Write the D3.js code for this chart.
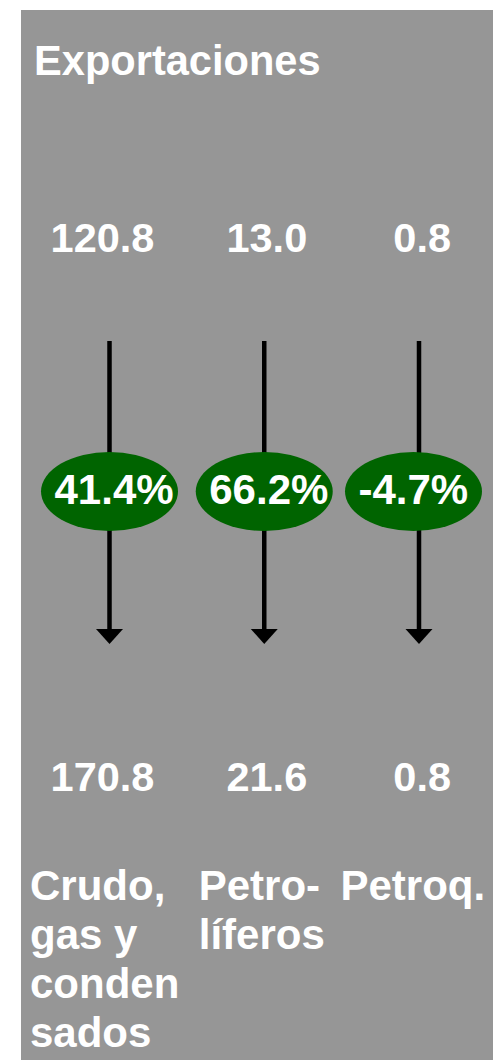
<!DOCTYPE html>
<html>
<head>
<meta charset="utf-8">
<script src="https://cdn.jsdelivr.net/npm/d3@7"></script>
<style>
  html, body { margin: 0; padding: 0; background: #ffffff; }
  svg { display: block; }
  text { font-family: "Liberation Sans", Arial, sans-serif; font-weight: bold; fill: #ffffff; }
</style>
</head>
<body>
<script>
// ---- data ----
const title = "Exportaciones";
const categories = ["Crudo", "Petrolíferos", "Petroq."];
const categoryLines = [["Crudo,", "gas y", "conden", "sados"], ["Petro-", "líferos"], ["Petroq."]];
const valuesBefore = [120.8, 13.0, 0.8];
const valuesAfter = [170.8, 21.6, 0.8];
const changePct = [41.4, 66.2, -4.7];

// ---- layout ----
const W = 493, H = 1060;
const svg = d3.select("body").append("svg").attr("width", W).attr("height", H);

svg.append("rect").attr("x", 21).attr("y", 10).attr("width", W - 21).attr("height", H - 10)
  .attr("fill", "#969696");

const x = d3.scalePoint().domain(categories).range([109.5, 419]);
const ellipseNudge = [0, 0, -5.5];
const valueNudge = [-7, 2.6, 3.2];
const labelNudge = [-79.5, -65.5, -78.5];

const fs = 42;

svg.append("text").attr("x", 34).attr("y", 75).attr("font-size", 41.6).text(title);

// values before
svg.selectAll(".vb").data(categories).join("text")
  .attr("class", "vb")
  .attr("x", (c, i) => x(c) + valueNudge[i])
  .attr("y", 252)
  .attr("text-anchor", "middle")
  .attr("font-size", 41.5)
  .text((c, i) => valuesBefore[i].toFixed(1));

// arrows
const arrowTop = 341, arrowEnd = 629, headLen = 15, headHalf = 13.5;
svg.selectAll(".shaft").data(categories).join("line")
  .attr("class", "shaft")
  .attr("x1", c => x(c)).attr("x2", c => x(c))
  .attr("y1", arrowTop).attr("y2", arrowEnd + 1)
  .attr("stroke", "#000").attr("stroke-width", 4.5);
svg.selectAll(".head").data(categories).join("path")
  .attr("class", "head")
  .attr("d", c => `M${x(c) - headHalf},${arrowEnd}L${x(c) + headHalf},${arrowEnd}L${x(c)},${arrowEnd + headLen}Z`)
  .attr("fill", "#000");

// ellipses
const ecy = 491.5;
svg.selectAll(".ell").data(categories).join("ellipse")
  .attr("class", "ell")
  .attr("cx", (c, i) => x(c) + ellipseNudge[i])
  .attr("cy", ecy).attr("rx", 68.5).attr("ry", 39.5)
  .attr("fill", "#006400");
svg.selectAll(".pct").data(categories).join("text")
  .attr("class", "pct")
  .attr("x", (c, i) => x(c) + ellipseNudge[i] - 55)
  .attr("y", 504)
  .attr("font-size", fs)
  .text((c, i) => changePct[i].toFixed(1) + "%");

// values after
svg.selectAll(".va").data(categories).join("text")
  .attr("class", "va")
  .attr("x", (c, i) => x(c) + valueNudge[i])
  .attr("y", 791)
  .attr("text-anchor", "middle")
  .attr("font-size", 41.5)
  .text((c, i) => valuesAfter[i].toFixed(1));

// category labels
const lab = svg.selectAll(".cat").data(categories).join("text")
  .attr("class", "cat")
  .attr("x", (c, i) => x(c) + labelNudge[i])
  .attr("y", 900)
  .attr("font-size", fs);
lab.selectAll("tspan").data((c, i) => categoryLines[i].map(t => ({ t, i }))).join("tspan")
  .attr("x", d => x(categories[d.i]) + labelNudge[d.i])
  .attr("dy", (d, j) => j === 0 ? 0 : 49)
  .text(d => d.t);
</script>
</body>
</html>
